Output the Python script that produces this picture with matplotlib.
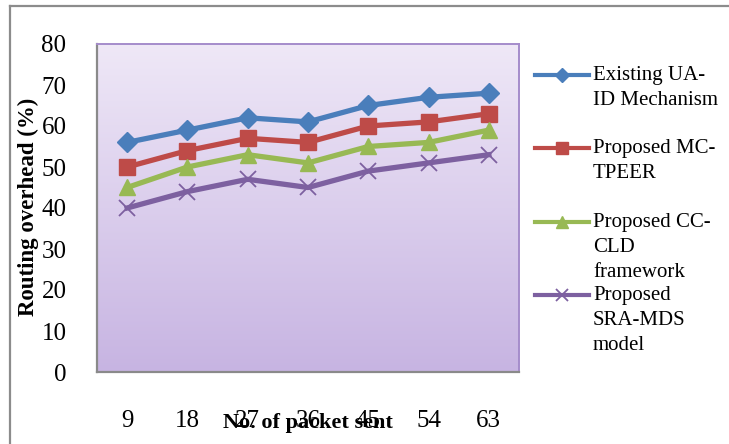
import matplotlib
matplotlib.use("Agg")
import matplotlib.pyplot as plt
import numpy as np
from matplotlib.lines import Line2D
from matplotlib.colors import LinearSegmentedColormap

plt.rcParams['font.family'] = ['Liberation Serif', 'DejaVu Serif']

packets = ["9", "18", "27", "36", "45", "54", "63"]
existing_ua_id = [56, 59, 62, 61, 65, 67, 68]
proposed_mc_tpeer = [50, 54, 57, 56, 60, 61, 63]
proposed_cc_cld = [45, 50, 53, 51, 55, 56, 59]
proposed_sra_mds = [40, 44, 47, 45, 49, 51, 53]

series_labels = ["Existing UA-\nID Mechanism", "Proposed MC-\nTPEER",
                 "Proposed CC-\nCLD\nframework", "Proposed\nSRA-MDS\nmodel"]
series = [existing_ua_id, proposed_mc_tpeer, proposed_cc_cld, proposed_sra_mds]
colors = ["#4a7ebb", "#be4b48", "#98b954", "#7d60a0"]
markers = ["D", "s", "^", "x"]
msizes = [10, 12, 12, 12]

W, H = 729, 444
fig = plt.figure(figsize=(W / 100, H / 100), dpi=100)

# outer frame (left and top visible)
fig.add_artist(Line2D([10 / W, 10 / W], [0, 1 - 6 / H], transform=fig.transFigure,
                      color="#8c8c8c", lw=1.6))
fig.add_artist(Line2D([10 / W, 1], [1 - 6 / H, 1 - 6 / H], transform=fig.transFigure,
                      color="#8c8c8c", lw=1.6))

ax = fig.add_axes([97 / W, (H - 372) / H, (519 - 97) / W, (372 - 44) / H])

# gradient background
cmap = LinearSegmentedColormap.from_list("g", ["#c7b4e2", "#efe8f7"])
grad = np.linspace(0, 1, 256).reshape(-1, 1)
ax.imshow(grad, cmap=cmap, aspect="auto", extent=[0, 1, 0, 1],
          transform=ax.transAxes, origin="lower", zorder=0)

x = np.arange(len(packets))
for vals, c, m, ms in zip(series, colors, markers, msizes):
    if m == "x":
        ax.plot(x, vals, color=c, lw=3.8, marker=m, markersize=ms,
                markeredgewidth=1.3, zorder=3)
    else:
        ax.plot(x, vals, color=c, lw=3.8, marker=m, markersize=ms,
                markeredgecolor=c, zorder=3)

ax.set_xlim(-0.5, len(packets) - 0.5)
ax.set_ylim(0, 80)
ax.set_yticks(range(0, 81, 10))
ax.set_xticks(x)
ax.set_xticklabels(packets)
ax.tick_params(axis="both", length=0, labelsize=18)
ax.tick_params(axis="y", pad=22)
ax.tick_params(axis="x", pad=27)

for s in ["left", "bottom"]:
    ax.spines[s].set_color("#8a8a8a")
    ax.spines[s].set_linewidth(1.6)
for s in ["top", "right"]:
    ax.spines[s].set_color("#a58ccb")
    ax.spines[s].set_linewidth(1.4)

fig.text(308 / W, 1 - 423 / H, "No. of packet sent", ha="center", va="center",
         fontsize=16, fontweight="bold")
fig.text(28 / W, 1 - 207 / H, "Routing overhead (%)", ha="center", va="center",
         rotation=90, fontsize=16.5, fontweight="bold")

# legend
leg_y = [75, 148, 222, 295]
for lab, c, m, ms, yy in zip(series_labels, colors, markers, msizes, leg_y):
    fy = 1 - yy / H
    fig.add_artist(Line2D([535 / W, 589 / W], [fy, fy], transform=fig.transFigure,
                          color=c, lw=3))
    fig.add_artist(Line2D([562 / W], [fy], transform=fig.transFigure, color=c,
                          marker=m, markersize=ms * 0.75, markeredgecolor=c,
                          markeredgewidth=1.3 if m == "x" else 1))
    fig.text(593 / W, fy + 9 / H, lab, ha="left", va="top", fontsize=15,
             linespacing=1.42)

fig.savefig("out.png", dpi=100)
